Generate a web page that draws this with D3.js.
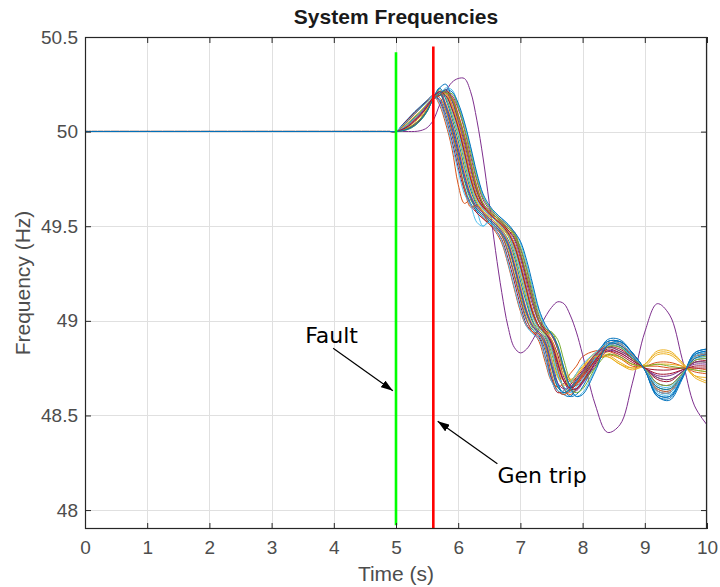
<!DOCTYPE html>
<html>
<head>
<meta charset="utf-8">
<script src="https://cdn.jsdelivr.net/npm/d3@7"></script>
<style>
  body { margin: 0; background: #ffffff; }
  svg { display: block; }
</style>
</head>
<body>
<svg id="chart" width="720" height="587"></svg>
<script>
// Simulation time base (s)
const times = [0, 4.9,
  5.0, 5.1, 5.2, 5.3, 5.4, 5.5, 5.6, 5.7, 5.8, 5.9, 6.0,
  6.1, 6.2, 6.3, 6.4, 6.5, 6.6, 6.7, 6.8, 6.9, 7.0,
  7.1, 7.2, 7.3, 7.4, 7.5, 7.6, 7.7, 7.8, 7.9, 8.0,
  8.2, 8.4, 8.6, 8.8, 9.0, 9.2, 9.4, 9.6, 9.8, 10.0];

// Generator bus frequencies (Hz), one array per machine
const gen01 = [50, 50, 50,50.015,50.04,50.07,50.10,50.14, 50.18,50.23,50.25,50.17,50.05, 49.91,49.77,49.66,49.60,49.57,49.54,49.51,49.47,49.41,49.30,49.17,49.05,48.97,48.94, 48.87,48.75,48.64,48.60,48.61,48.65, 48.78,48.90,48.90,48.83,48.74,48.60,48.58,48.69,48.83,48.85];
const gen02 = [50, 50, 50,50.03,50.065,50.10,50.13,50.16, 50.19,50.14,50.04,49.91,49.72, 49.62,49.64,49.57,49.54,49.51,49.47,49.41,49.30,49.17,49.05,48.97,48.94,48.89,48.78, 48.68,48.65,48.67,48.72,48.76,48.81, 48.84,48.84,48.81,48.77,48.76,48.76,48.75,48.75,48.75,48.74];
const gen03 = [50, 50, 50,50.005,50.015,50.035,50.065,50.11, 50.17,50.19,50.22,50.18,50.09, 49.98,49.84,49.71,49.62,49.58,49.55,49.52,49.49,49.45,49.36,49.24,49.11,49.00,48.95, 48.93,48.86,48.75,48.69,48.69,48.73, 48.79,48.81,48.77,48.75,48.77,48.83,48.83,48.78,48.71,48.68];
const gen04 = [50, 50, 50,50,50,50,50.005,50.02, 50.06,50.14,50.21,50.26,50.28, 50.28,50.21,50.06,49.86,49.62,49.37,49.15,48.97,48.86,48.83,48.85,48.90,48.96,49.02, 49.07,49.10,49.09,49.03,48.94,48.82, 48.56,48.41,48.45,48.67,48.94,49.09,49.03,48.80,48.55,48.45];
const gen05 = [50, 50, 50,50.02,50.045,50.075,50.105,50.145, 50.18,50.22,50.18,50.09,49.98, 49.84,49.71,49.62,49.58,49.55,49.52,49.49,49.45,49.36,49.24,49.11,49.00,48.95,48.92, 48.83,48.71,48.65,48.63,48.67,48.71, 48.80,48.86,48.84,48.80,48.75,48.70,48.69,48.73,48.78,48.78];
const gen06 = [50, 50, 50,50.02,50.05,50.08,50.11,50.145, 50.18,50.21,50.14,50.04,49.91, 49.77,49.66,49.58,49.50,49.53,49.51,49.47,49.41,49.30,49.17,49.05,48.97,48.94,48.89, 48.77,48.66,48.62,48.63,48.67,48.71, 48.81,48.88,48.87,48.82,48.74,48.64,48.63,48.71,48.81,48.82];
const gen07 = [50, 50, 50,50.01,50.035,50.065,50.095,50.135, 50.18,50.20,50.21,50.14,50.04, 49.91,49.77,49.66,49.60,49.57,49.54,49.51,49.47,49.41,49.30,49.17,49.05,48.97,48.94, 48.89,48.78,48.68,48.65,48.67,48.71, 48.80,48.84,48.82,48.78,48.75,48.74,48.74,48.75,48.75,48.75];
const gen08 = [50, 50, 50,50.035,50.07,50.105,50.135,50.165, 50.19,50.17,50.09,49.98,49.84, 49.71,49.62,49.58,49.55,49.52,49.49,49.45,49.36,49.24,49.11,49.00,48.95,48.92,48.84, 48.70,48.63,48.61,48.64,48.68,48.73, 48.82,48.89,48.89,48.83,48.74,48.61,48.60,48.70,48.82,48.84];
const gen09 = [50, 50, 50,50.005,50.02,50.04,50.07,50.115, 50.17,50.19,50.20,50.18,50.09, 49.98,49.84,49.71,49.62,49.58,49.55,49.52,49.46,49.47,49.35,49.24,49.11,49.00,48.95, 48.92,48.85,48.73,48.68,48.67,48.71, 48.78,48.82,48.80,48.76,48.76,48.78,48.78,48.76,48.73,48.72];
const gen10 = [50, 50, 50,50.012,50.035,50.065,50.095,50.135, 50.18,50.20,50.19,50.11,50.00, 49.86,49.73,49.63,49.58,49.55,49.52,49.49,49.45,49.38,49.27,49.13,49.02,48.96,48.93, 48.85,48.74,48.68,48.68,48.72,48.76, 48.82,48.82,48.78,48.75,48.76,48.82,48.82,48.77,48.71,48.70];
const gen11 = [50, 50, 50,50.01,50.03,50.06,50.09,50.13, 50.18,50.19,50.21,50.16,50.06, 49.94,49.80,49.68,49.61,49.57,49.55,49.52,49.48,49.43,49.33,49.20,49.08,48.99,48.94, 48.89,48.79,48.68,48.63,48.63,48.67, 48.78,48.87,48.86,48.80,48.75,48.67,48.66,48.72,48.79,48.80];
const gen12 = [50, 50, 50,50.018,50.045,50.075,50.105,50.145, 50.18,50.20,50.12,50.01,49.88, 49.74,49.64,49.59,49.56,49.53,49.50,49.46,49.39,49.28,49.14,49.03,48.96,48.93,48.87, 48.75,48.65,48.62,48.64,48.69,48.72, 48.82,48.87,48.86,48.81,48.74,48.65,48.64,48.72,48.80,48.81];
const gen13 = [50, 50, 50,50.004,50.012,50.03,50.06,50.105, 50.17,50.19,50.23,50.22,50.14, 50.04,49.91,49.77,49.66,49.60,49.57,49.54,49.51,49.47,49.41,49.30,49.17,49.05,48.97, 48.93,48.86,48.74,48.64,48.60,48.62, 48.74,48.87,48.88,48.82,48.74,48.62,48.61,48.70,48.82,48.83];
const gen14 = [50, 50, 50,50.032,50.068,50.10,50.13,50.162, 50.19,50.16,50.07,49.95,49.81, 49.69,49.61,49.57,49.54,49.51,49.48,49.43,49.33,49.21,49.08,48.98,48.94,48.91,48.81, 48.69,48.62,48.63,48.66,48.70,48.74, 48.82,48.88,48.88,48.82,48.74,48.63,48.62,48.71,48.81,48.83];
const gen15 = [50, 50, 50,50.016,50.042,50.072,50.102,50.142, 50.18,50.23,50.17,50.07,49.95, 49.81,49.69,49.61,49.57,49.54,49.51,49.48,49.43,49.34,49.21,49.09,48.99,48.94,48.91, 48.80,48.67,48.61,48.60,48.64,48.68, 48.80,48.89,48.89,48.83,48.74,48.60,48.59,48.70,48.83,48.85];
const gen16 = [50, 50, 50,50.014,50.038,50.068,50.10,50.14, 50.18,50.21,50.20,50.12,50.02, 49.88,49.75,49.65,49.59,49.56,49.53,49.50,49.46,49.39,49.28,49.15,49.03,48.96,48.93, 48.86,48.74,48.64,48.61,48.64,48.68, 48.79,48.88,48.87,48.82,48.74,48.64,48.63,48.71,48.81,48.82];
const gen17 = [50, 50, 50,50.02,50.048,50.08,50.11,50.148, 50.18,50.21,50.15,50.05,49.93, 49.79,49.67,49.60,49.57,49.54,49.51,49.48,49.42,49.32,49.19,49.06,48.98,48.94,48.90, 48.80,48.70,48.66,48.67,48.71,48.75, 48.83,48.83,48.80,48.77,48.76,48.77,48.77,48.76,48.74,48.73];
const gen18 = [50, 50, 50,50.006,50.018,50.04,50.07,50.115, 50.17,50.19,50.21,50.19,50.12, 50.01,49.87,49.74,49.64,49.59,49.56,49.53,49.50,49.46,49.38,49.27,49.13,49.02,48.96, 48.93,48.85,48.74,48.66,48.64,48.67, 48.76,48.84,48.83,48.79,48.75,48.71,48.71,48.74,48.77,48.77];
const gen19 = [50, 50, 50,50.003,50.012,50.03,50.06,50.105, 50.17,50.19,50.20,50.20,50.13, 50.02,49.89,49.75,49.65,49.60,49.56,49.53,49.50,49.46,49.39,49.28,49.15,49.03,48.96, 48.94,48.90,48.79,48.69,48.66,48.68, 48.75,48.82,48.81,48.77,48.76,48.77,48.76,48.75,48.74,48.73];
const gen20 = [50, 50, 50,50.016,50.04,50.07,50.10,50.14, 50.18,50.21,50.19,50.11,50.00, 49.87,49.73,49.64,49.59,49.56,49.53,49.50,49.46,49.38,49.27,49.14,49.02,48.96,48.93, 48.85,48.72,48.65,48.62,48.65,48.69, 48.80,48.87,48.86,48.81,48.75,48.66,48.65,48.72,48.80,48.80];
const gen21 = [50, 50, 50,50.006,50.016,50.036,50.066,50.11, 50.17,50.19,50.22,50.17,50.08, 49.96,49.82,49.69,49.61,49.57,49.54,49.51,49.48,49.44,49.35,49.22,49.10,49.00,48.95, 48.90,48.82,48.70,48.64,48.64,48.68, 48.77,48.86,48.85,48.80,48.75,48.69,48.68,48.73,48.78,48.79];
const gen22 = [50, 50, 50,50.028,50.062,50.096,50.128,50.158, 50.19,50.20,50.13,50.02,49.89, 49.75,49.65,49.59,49.56,49.53,49.50,49.46,49.40,49.29,49.16,49.04,48.97,48.93,48.88, 48.76,48.65,48.62,48.64,48.68,48.72, 48.81,48.88,48.87,48.81,48.74,48.65,48.64,48.71,48.80,48.82];
const gen23 = [50, 50, 50,50.025,50.058,50.09,50.125,50.158, 50.19,50.18,50.11,50.00,49.86, 49.70,49.60,49.61,49.57,49.51,49.49,49.45,49.37,49.25,49.12,49.01,48.94,48.93,48.86, 48.72,48.63,48.61,48.63,48.67,48.72, 48.81,48.88,48.88,48.82,48.74,48.63,48.62,48.71,48.81,48.83];
const gen24 = [50, 50, 50,50.008,50.025,50.05,50.08,50.125, 50.18,50.20,50.20,50.14,50.04, 49.91,49.77,49.66,49.60,49.57,49.54,49.51,49.47,49.41,49.30,49.17,49.05,48.97,48.94, 48.90,48.80,48.71,48.69,48.71,48.75, 48.81,48.81,48.77,48.74,48.77,48.84,48.84,48.78,48.70,48.67];
const gen25 = [50, 50, 50,50.012,50.03,50.06,50.095,50.14, 50.18,50.21,50.14,50.04,49.91, 49.77,49.66,49.60,49.57,49.54,49.51,49.47,49.41,49.30,49.17,49.05,48.97,48.94,48.89, 48.77,48.67,48.64,48.65,48.69,48.73, 48.82,48.86,48.84,48.80,48.75,48.70,48.69,48.73,48.78,48.78];
const gen26 = [50, 50, 50,50.006,50.02,50.04,50.07,50.115, 50.17,50.20,50.21,50.17,50.08, 49.97,49.83,49.70,49.62,49.58,49.55,49.52,49.49,49.45,49.36,49.24,49.11,49.00,48.93, 48.94,48.86,48.73,48.64,48.62,48.64, 48.75,48.86,48.86,48.80,48.75,48.67,48.66,48.72,48.79,48.80];
const gen27 = [50, 50, 50,50.03,50.062,50.095,50.125,50.155, 50.19,50.15,50.06,49.93,49.79, 49.67,49.61,49.52,49.50,49.52,49.48,49.42,49.31,49.18,49.06,48.97,48.93,48.90,48.80, 48.68,48.63,48.63,48.67,48.72,48.77, 48.83,48.88,48.88,48.82,48.74,48.63,48.62,48.71,48.81,48.83];
const gen28 = [50, 50, 50,50.01,50.028,50.055,50.088,50.13, 50.18,50.21,50.19,50.12,50.02, 49.89,49.75,49.65,49.60,49.565,49.535,49.505,49.465,49.40,49.29,49.16,49.04,48.97,48.935, 48.88,48.77,48.68,48.645,48.66,48.70, 48.79,48.85,48.83,48.79,48.75,48.72,48.72,48.74,48.76,48.76];
const gen29 = [50, 50, 50,50.004,50.014,50.032,50.062,50.108, 50.17,50.20,50.22,50.21,50.15, 50.05,49.92,49.78,49.67,49.61,49.57,49.54,49.51,49.47,49.42,49.32,49.19,49.06,48.98, 48.93,48.87,48.75,48.65,48.60,48.61, 48.73,48.87,48.89,48.83,48.74,48.61,48.60,48.70,48.82,48.84];

// Default line colour order, cycled over the machines
const colorOrder = ["#0072BD", "#D95319", "#EDB120", "#7E2F8E", "#77AC30", "#4DBEEE", "#A2142F"];

// Axis ticks
const xTicks = [0, 1, 2, 3, 4, 5, 6, 7, 8, 9, 10];
const yTicks = [48, 48.5, 49, 49.5, 50, 50.5];

// Event markers: [time, top frequency, bottom frequency]
const faultEvent = [5.0, 50.42, 47.92];
const tripEvent = [5.6, 50.45, 47.9];

// Callouts: label, label position, arrow tail, arrow head (time, Hz)
const faultNote = { text: "Fault", at: [3.54, 48.885], from: [3.99, 48.855], to: [4.95, 48.63] };
const tripNote = { text: "Gen trip", at: [6.63, 48.145], from: [6.63, 48.245], to: [5.67, 48.47] };

const series = [gen01, gen02, gen03, gen04, gen05, gen06, gen07, gen08, gen09, gen10,
                gen11, gen12, gen13, gen14, gen15, gen16, gen17, gen18, gen19, gen20,
                gen21, gen22, gen23, gen24, gen25, gen26, gen27, gen28, gen29];

const svg = d3.select("#chart");
const W = 720, H = 587;
const plotLeft = 85, plotRight = 707, plotTop = 37, plotBottom = 529;

svg.append("rect").attr("width", W).attr("height", H).attr("fill", "#ffffff");

const x = d3.scaleLinear().domain([0, 10]).range([plotLeft, plotRight]);
const y = d3.scaleLinear().domain([47.9, 50.5]).range([plotBottom, plotTop]);

const axisFont = "'Liberation Sans', Arial, Helvetica, sans-serif";
const axisColor = "#262626";
const labelColor = "#4d4d4d";

// Grid
const grid = svg.append("g").attr("stroke", "#e0e0e0").attr("stroke-width", 1);
grid.selectAll("line.vx").data(xTicks).join("line")
  .attr("x1", d => Math.round(x(d)) + 0.5).attr("x2", d => Math.round(x(d)) + 0.5)
  .attr("y1", plotTop).attr("y2", plotBottom);
grid.selectAll("line.hy").data(yTicks).join("line")
  .attr("y1", d => Math.round(y(d)) + 0.5).attr("y2", d => Math.round(y(d)) + 0.5)
  .attr("x1", plotLeft).attr("x2", plotRight);

// Frequency traces
const plot = svg.append("g");
plot.append("clipPath").attr("id", "plotClip")
  .append("rect").attr("x", plotLeft).attr("y", plotTop)
  .attr("width", plotRight - plotLeft).attr("height", plotBottom - plotTop);

const line = d3.line()
  .x((d, i) => x(times[i]))
  .y(d => y(d))
  .curve(d3.curveCatmullRom.alpha(0.5));

// Keep the shared pre-fault 50 Hz level on a single pixel row so the
// overlapping traces show only the colour drawn last.
const nominalRow = Math.floor(y(50)) + 0.5;
const rowShift = nominalRow - y(50);

plot.append("g").attr("clip-path", "url(#plotClip)")
  .append("g").attr("transform", `translate(0,${rowShift})`)
  .selectAll("path").data(series).join("path")
  .attr("d", d => line(d))
  .attr("fill", "none")
  .attr("stroke", (d, i) => colorOrder[i % colorOrder.length])
  .attr("stroke-width", 1)
  .attr("stroke-linejoin", "round");

// Fault and generator trip markers
svg.append("line")
  .attr("x1", x(faultEvent[0])).attr("x2", x(faultEvent[0]))
  .attr("y1", y(faultEvent[1])).attr("y2", y(faultEvent[2]))
  .attr("stroke", "#00ff00").attr("stroke-width", 2.6);
svg.append("line")
  .attr("x1", x(tripEvent[0])).attr("x2", x(tripEvent[0]))
  .attr("y1", y(tripEvent[1])).attr("y2", y(tripEvent[2]))
  .attr("stroke", "#ff0000").attr("stroke-width", 2.6);

// Axes with inward ticks on all four sides
const tick = 6;
const bottomAxis = d3.axisBottom(x).tickValues(xTicks).tickSizeInner(-tick).tickSizeOuter(0).tickPadding(12)
  .tickFormat(d3.format("d"));
const topAxis = d3.axisTop(x).tickValues(xTicks).tickSizeInner(-tick).tickSizeOuter(0).tickFormat("");
const leftAxis = d3.axisLeft(y).tickValues(yTicks).tickSizeInner(-tick).tickSizeOuter(0).tickPadding(7)
  .tickFormat(d => String(d));
const rightAxis = d3.axisRight(y).tickValues(yTicks).tickSizeInner(-tick).tickSizeOuter(0).tickFormat("");

function styleAxis(g) {
  g.select(".domain").remove();
  g.selectAll(".tick line").attr("stroke", axisColor);
  g.selectAll(".tick text").attr("fill", labelColor).attr("font-family", axisFont).attr("font-size", 19);
}
svg.append("g").attr("transform", `translate(0,${plotBottom})`).call(bottomAxis).call(styleAxis);
svg.append("g").attr("transform", `translate(0,${plotTop})`).call(topAxis).call(styleAxis);
svg.append("g").attr("transform", `translate(${plotLeft},0)`).call(leftAxis).call(styleAxis);
svg.append("g").attr("transform", `translate(${plotRight},0)`).call(rightAxis).call(styleAxis);

// Box
svg.append("rect")
  .attr("x", plotLeft + 0.5).attr("y", plotTop + 0.5)
  .attr("width", plotRight - plotLeft - 1).attr("height", plotBottom - plotTop - 1)
  .attr("fill", "none").attr("stroke", axisColor).attr("stroke-width", 1.2);

// Titles
svg.append("text")
  .attr("x", (plotLeft + plotRight) / 2).attr("y", 24)
  .attr("text-anchor", "middle")
  .attr("font-family", axisFont).attr("font-weight", "bold").attr("font-size", 21)
  .attr("fill", "#1a1a1a").text("System Frequencies");
svg.append("text")
  .attr("x", (plotLeft + plotRight) / 2).attr("y", 581)
  .attr("text-anchor", "middle")
  .attr("font-family", axisFont).attr("font-size", 21)
  .attr("fill", labelColor).text("Time (s)");
svg.append("text")
  .attr("transform", `translate(30,${(plotTop + plotBottom) / 2}) rotate(-90)`)
  .attr("text-anchor", "middle")
  .attr("font-family", axisFont).attr("font-size", 21)
  .attr("fill", labelColor).text("Frequency (Hz)");

// Callouts with arrows
const defs = svg.append("defs");
defs.append("marker")
  .attr("id", "arrowHead")
  .attr("viewBox", "0 0 12 8")
  .attr("refX", 12).attr("refY", 4)
  .attr("markerWidth", 12).attr("markerHeight", 8)
  .attr("markerUnits", "userSpaceOnUse")
  .attr("orient", "auto")
  .append("path").attr("d", "M0,0 L12,4 L0,8 Z").attr("fill", "#000");

[faultNote, tripNote].forEach(n => {
  svg.append("line")
    .attr("x1", x(n.from[0])).attr("y1", y(n.from[1]))
    .attr("x2", x(n.to[0])).attr("y2", y(n.to[1]))
    .attr("stroke", "#000").attr("stroke-width", 1.2)
    .attr("marker-end", "url(#arrowHead)");
  svg.append("text")
    .attr("x", x(n.at[0])).attr("y", y(n.at[1]))
    .attr("font-family", "'DejaVu Sans', Verdana, sans-serif")
    .attr("font-size", 22).attr("fill", "#000")
    .text(n.text);
});
</script>
</body>
</html>
